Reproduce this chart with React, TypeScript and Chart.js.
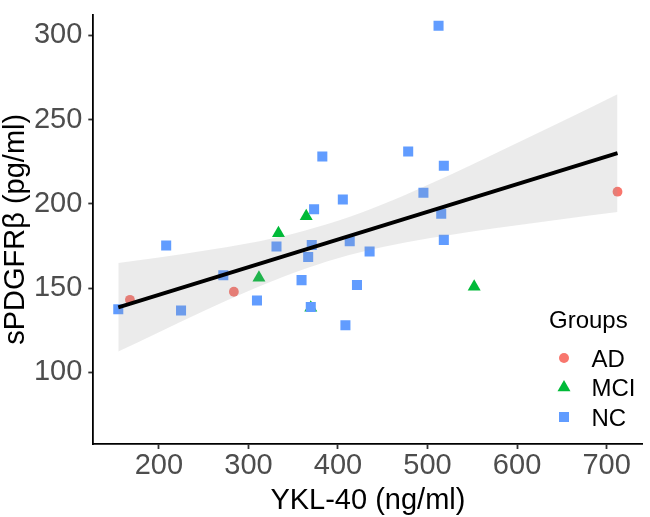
import React, { useEffect, useRef } from "react";
import { Chart, registerables } from "chart.js";

Chart.register(...registerables);

const FONT = '"Liberation Sans", Arial, Helvetica, sans-serif';

// Groups shown in the legend
const groups = ["AD", "MCI", "NC"];
const groupColors = ["#F8766D", "#00BA38", "#619CFF"];
const legendTitle = "Groups";

// YKL-40 (ng/ml) vs sPDGFRβ (pg/ml), per group
const adX = [167.6, 283.7, 712.2];
const adY = [143.0, 147.8, 207.2];

const mciX = [311.7, 333.5, 364.5, 369.6, 552.1];
const mciY = [156.1, 182.5, 192.7, 138.3, 150.8];

const ncX = [
  154.6, 208.1, 224.7, 271.9, 309.5, 331.3, 359.3, 366.7, 370.7, 369.6, 373.3, 382.5,
  405.4, 408.3, 413.1, 421.2, 435.3, 478.4, 495.4, 512.3, 515.3, 518.2, 518.2,
];
const ncY = [
  137.4, 175.3, 136.7, 157.6, 142.6, 174.7, 154.7, 168.4, 175.6, 138.8, 196.8, 228.1,
  202.6, 127.9, 177.8, 151.8, 171.7, 231.1, 206.6, 305.8, 194.1, 222.6, 178.6,
];

// Linear fit and its confidence band
const fitX = [154.6, 712.2];
const fitY = [138.5, 230.1];

const bandX = [154.6, 200, 250, 300, 350, 400, 450, 500, 550, 600, 650, 712.2];
const bandUpper = [164.9, 168.2, 172.1, 176.6, 182.3, 189.9, 199.7, 211.2, 223.4, 236.1, 248.9, 265.1];
const bandLower = [112.3, 123.8, 136.3, 148.2, 158.9, 167.7, 174.3, 179.4, 183.6, 187.3, 190.9, 195.1];

// Axis ticks and titles
const xTicks = [200, 300, 400, 500, 600, 700];
const yTicks = [100, 150, 200, 250, 300];
const xTitle = "YKL-40 (ng/ml)";
const yTitle = "sPDGFRβ (pg/ml)";

const zip = (xs: number[], ys: number[]) => xs.map((x, i) => ({ x, y: ys[i] }));

function drawMarker(ctx: CanvasRenderingContext2D, shape: string, x: number, y: number) {
  ctx.beginPath();
  if (shape === "circle") {
    ctx.arc(x, y, 5, 0, Math.PI * 2);
  } else if (shape === "triangle") {
    const r = 7.5;
    ctx.moveTo(x, y - r);
    ctx.lineTo(x + r * Math.sin((2 * Math.PI) / 3), y + r / 2);
    ctx.lineTo(x - r * Math.sin((2 * Math.PI) / 3), y + r / 2);
    ctx.closePath();
  } else {
    ctx.rect(x - 5, y - 5, 10, 10);
  }
  ctx.fill();
}

const groupShapes = ["circle", "triangle", "rect"];

// Legend placed inside the plotting panel, lower right
const legendPlugin = {
  id: "groupsLegend",
  afterDraw(chart: any) {
    const ctx: CanvasRenderingContext2D = chart.ctx;
    const left = 549;
    const titleBase = 328;
    const rowY = [358, 387.5, 417];
    ctx.save();
    ctx.textAlign = "left";
    ctx.textBaseline = "alphabetic";
    ctx.fillStyle = "#000";
    ctx.font = `24px ${FONT}`;
    ctx.fillText(legendTitle, left, titleBase);
    groups.forEach((g, i) => {
      ctx.fillStyle = groupColors[i];
      drawMarker(ctx, groupShapes[i], 564, rowY[i]);
      ctx.fillStyle = "#000";
      ctx.fillText(g, 591.5, rowY[i] + 8.5);
    });
    ctx.restore();
  },
};

export default function App() {
  const ref = useRef<HTMLCanvasElement>(null);

  useEffect(() => {
    const canvas = ref.current;
    if (!canvas) return;
    const chart = new Chart(canvas, {
      type: "scatter",
      data: {
        datasets: [
          {
            label: groups[0],
            data: zip(adX, adY),
            pointStyle: "circle",
            pointRadius: 4.9,
            backgroundColor: groupColors[0],
            borderWidth: 0,
            order: 5,
          },
          {
            label: groups[1],
            data: zip(mciX, mciY),
            pointStyle: "triangle",
            pointRadius: 7.5,
            backgroundColor: groupColors[1],
            borderWidth: 0,
            order: 5,
          },
          {
            label: groups[2],
            data: zip(ncX, ncY),
            pointStyle: "rect",
            pointRadius: 7.1,
            backgroundColor: groupColors[2],
            borderWidth: 0,
            order: 4,
          },
          {
            type: "line",
            label: "upper",
            data: zip(bandX, bandUpper),
            borderWidth: 0,
            borderColor: "rgba(0,0,0,0)",
            pointRadius: 0,
            cubicInterpolationMode: "monotone",
            fill: false,
            order: 3,
          } as any,
          {
            type: "line",
            label: "lower",
            data: zip(bandX, bandLower),
            borderWidth: 0,
            borderColor: "rgba(0,0,0,0)",
            pointRadius: 0,
            cubicInterpolationMode: "monotone",
            fill: "-1",
            backgroundColor: "rgba(153,153,153,0.2)",
            order: 2,
          } as any,
          {
            type: "line",
            label: "fit",
            data: zip(fitX, fitY),
            borderColor: "#000",
            borderWidth: 3.8,
            pointRadius: 0,
            fill: false,
            order: 1,
          } as any,
        ],
      },
      options: {
        animation: false,
        responsive: false,
        devicePixelRatio: 1,
        events: [],
        layout: { padding: { top: 10, right: 2, left: 0, bottom: 0 } },
        plugins: {
          legend: { display: false },
          tooltip: { enabled: false },
        },
        scales: {
          x: {
            type: "linear",
            min: 126.7,
            max: 740.1,
            afterBuildTicks: (s: any) => {
              s.ticks = xTicks.map((v) => ({ value: v }));
            },
            afterFit: (s: any) => {
              s.height = 73;
            },
            grid: {
              drawOnChartArea: false,
              drawTicks: true,
              tickLength: 5,
              tickColor: "#333",
              tickWidth: 1.8,
            },
            border: { display: true, color: "#000", width: 1.8 },
            ticks: {
              color: "#4D4D4D",
              font: { family: FONT, size: 29, lineHeight: 1 },
              padding: 2,
              maxRotation: 0,
              autoSkip: false,
            },
            title: {
              display: true,
              text: xTitle,
              color: "#000",
              font: { family: FONT, size: 29, lineHeight: 1 },
              padding: { top: 0, bottom: 2 },
            },
          },
          y: {
            type: "linear",
            min: 57.4,
            max: 312.3,
            afterBuildTicks: (s: any) => {
              s.ticks = yTicks.map((v) => ({ value: v }));
            },
            afterFit: (s: any) => {
              s.width = 93.3;
            },
            grid: {
              drawOnChartArea: false,
              drawTicks: true,
              tickLength: 5,
              tickColor: "#333",
              tickWidth: 1.8,
            },
            border: { display: true, color: "#000", width: 1.8 },
            ticks: {
              color: "#4D4D4D",
              font: { family: FONT, size: 29, lineHeight: 0.6 },
              padding: 6,
            },
            title: {
              display: true,
              text: yTitle,
              color: "#000",
              font: { family: FONT, size: 29, lineHeight: 1 },
              padding: { top: 1.5, bottom: 0 },
            },
          },
        },
      },
      plugins: [legendPlugin],
    } as any);
    return () => chart.destroy();
  }, []);

  return (
    <div
      style={{
        position: "fixed",
        left: 0,
        top: 0,
        width: 650,
        height: 517,
        background: "#fff",
      }}
    >
      <canvas ref={ref} width={650} height={517} style={{ display: "block" }} />
    </div>
  );
}
